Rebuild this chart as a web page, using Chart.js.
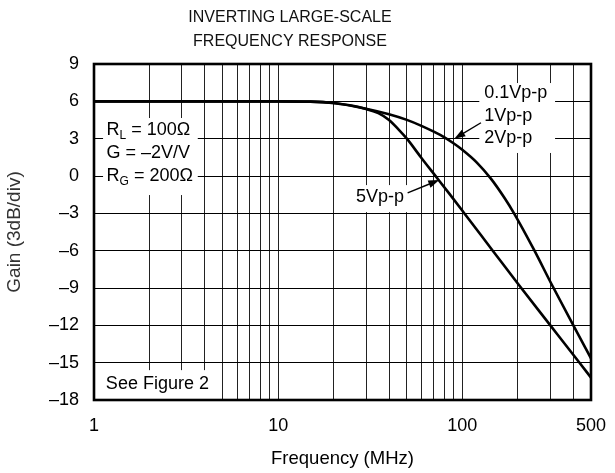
<!DOCTYPE html>
<html lang="en">
<head>
<meta charset="UTF-8" />
<title>Inverting Large-Scale Frequency Response</title>
<script src="https://cdn.jsdelivr.net/npm/chart.js"></script>
<style>
  html, body { margin: 0; padding: 0; background: #fff; }
  canvas { display: block; }
</style>
</head>
<body>
<canvas id="chart" width="615" height="473"></canvas>
<script>
  // curve for 0.1 / 1 / 2 Vp-p (all on top of each other)
  const freqSmall = [1, 5, 10, 15, 20, 30, 40, 50, 60, 70, 80, 90, 100, 120, 143, 170, 191, 245, 306, 405, 500];
  const gainSmall = [6, 6, 6, 5.98, 5.87, 5.41, 4.96, 4.51, 4.03, 3.56, 3.11, 2.61, 2.11, 1.08, -0.21, -1.79, -3, -5.92, -8.72, -12.13, -14.65];

  // curve for 5 Vp-p
  const freqLarge = [1, 5, 10, 15, 20, 25, 30, 35, 40, 45, 50, 60, 72, 85, 102, 146, 203, 300, 430, 500];
  const gainLarge = [6, 6, 6, 5.98, 5.87, 5.66, 5.38, 5.05, 4.5, 3.75, 3.0, 1.45, -0.05, -1.42, -2.95, -5.98, -8.76, -11.98, -14.95, -16.2];

  const xGrid = [1, 2, 3, 4, 5, 6, 7, 8, 9, 10, 20, 30, 40, 50, 60, 70, 80, 90, 100, 200, 300, 400, 500];
  const xLabels = [1, 10, 100, 500];
  const yTicks = [9, 6, 3, 0, -3, -6, -9, -12, -15, -18];

  const titleLines = ["INVERTING LARGE-SCALE", "FREQUENCY RESPONSE"];

  const FONT = "'Liberation Sans', Arial, Helvetica, sans-serif";

  // white patches that hide the grid behind the notes: [f1, f2, dB1, dB2]
  const patches = [
    [1.12, 3.66, 4.66, -1.53],
    [123.7, 319, 7.47, 1.85],
    [25, 51.6, -0.73, -2.9],
    [1.08, 4.53, -15.6, -18]
  ];

  // notes: position in (MHz, dB), lines split into [text, subscript] parts
  const notes = [
    { at: [1.17, 3.7], step: 23, lines: [[["R", "L"], [" = 100Ω"]], [["G = –2V/V"]], [["R", "G"], [" = 200Ω"]]] },
    { at: [131.6, 6.64], step: 22.5, lines: [[["0.1Vp-p"]], [["1Vp-p"]], [["2Vp-p"]]] },
    { at: [26.5, -1.67], step: 0, lines: [[["5Vp-p"]]] },
    { at: [1.16, -16.75], step: 0, lines: [[["See Figure 2"]]] }
  ];

  // arrows from label to curve: [fromF, fromDb, toF, toDb]
  const arrows = [
    [126.3, 4.28, 90.5, 3.0],
    [50.5, -1.35, 75, -0.32]
  ];

  const notesPlugin = {
    id: "notes",
    beforeDatasetsDraw(chart) {
      const { ctx, scales: { x, y } } = chart;
      ctx.save();
      ctx.fillStyle = "#fff";
      patches.forEach(([f1, f2, d1, d2]) => {
        const x1 = x.getPixelForValue(f1), x2 = x.getPixelForValue(f2);
        const y1 = y.getPixelForValue(d1), y2 = y.getPixelForValue(d2);
        ctx.fillRect(x1, y1, x2 - x1, y2 - y1);
      });

      ctx.fillStyle = "#000";
      ctx.textBaseline = "middle";
      ctx.textAlign = "left";
      notes.forEach(n => {
        const px = x.getPixelForValue(n.at[0]);
        const py = y.getPixelForValue(n.at[1]);
        n.lines.forEach((parts, i) => {
          let cx = px;
          const cy = py + i * n.step;
          parts.forEach(([main, sub]) => {
            ctx.font = "18px " + FONT;
            ctx.fillText(main, cx, cy);
            cx += ctx.measureText(main).width;
            if (sub) {
              ctx.font = "12px " + FONT;
              ctx.fillText(sub, cx, cy + 6);
              cx += ctx.measureText(sub).width;
            }
          });
        });
      });
      ctx.restore();
    },
    afterDatasetsDraw(chart) {
      const { ctx, chartArea: a, scales: { x, y } } = chart;
      ctx.save();
      ctx.strokeStyle = "#000";
      ctx.fillStyle = "#000";
      arrows.forEach(([f1, d1, f2, d2]) => {
        const x1 = x.getPixelForValue(f1), y1 = y.getPixelForValue(d1);
        const x2 = x.getPixelForValue(f2), y2 = y.getPixelForValue(d2);
        const ang = Math.atan2(y2 - y1, x2 - x1);
        ctx.lineWidth = 1.4;
        ctx.beginPath();
        ctx.moveTo(x1, y1);
        ctx.lineTo(x2 - 8 * Math.cos(ang), y2 - 8 * Math.sin(ang));
        ctx.stroke();
        ctx.beginPath();
        ctx.moveTo(x2, y2);
        ctx.lineTo(x2 - 11 * Math.cos(ang) + 3.8 * Math.sin(ang), y2 - 11 * Math.sin(ang) - 3.8 * Math.cos(ang));
        ctx.lineTo(x2 - 11 * Math.cos(ang) - 3.8 * Math.sin(ang), y2 - 11 * Math.sin(ang) + 3.8 * Math.cos(ang));
        ctx.closePath();
        ctx.fill();
      });
      // heavy frame round the plot
      ctx.lineWidth = 2.6;
      ctx.strokeRect(a.left, a.top, a.right - a.left, a.bottom - a.top);
      ctx.restore();
    },
    afterDraw(chart) {
      const { ctx } = chart;
      ctx.save();
      ctx.fillStyle = "#111";
      ctx.font = "16px " + FONT;
      ctx.textAlign = "center";
      ctx.textBaseline = "middle";
      titleLines.forEach((t, i) => ctx.fillText(t, 290, 18 + i * 24));
      ctx.restore();
    }
  };

  new Chart(document.getElementById("chart"), {
    type: "line",
    data: {
      datasets: [
        {
          label: "0.1Vp-p, 1Vp-p, 2Vp-p",
          data: freqSmall.map((f, i) => ({ x: f, y: gainSmall[i] })),
          borderColor: "#000",
          borderWidth: 2.6,
          pointRadius: 0,
          fill: false,
          cubicInterpolationMode: "monotone"
        },
        {
          label: "5Vp-p",
          data: freqLarge.map((f, i) => ({ x: f, y: gainLarge[i] })),
          borderColor: "#000",
          borderWidth: 2.6,
          pointRadius: 0,
          fill: false,
          cubicInterpolationMode: "monotone"
        }
      ]
    },
    options: {
      responsive: false,
      animation: false,
      devicePixelRatio: 1,
      layout: { padding: { top: 64, right: 24, bottom: 0, left: 0 } },
      plugins: {
        legend: { display: false },
        tooltip: { enabled: false }
      },
      scales: {
        x: {
          type: "logarithmic",
          min: 1,
          max: 500,
          afterBuildTicks: s => { s.ticks = xGrid.map(v => ({ value: v })); },
          afterFit: s => {
            s.height = 73;
            s.paddingLeft = 0;
            s.paddingRight = 0;
          },
          ticks: {
            autoSkip: false,
            maxRotation: 0,
            padding: 15,
            color: "#000",
            font: { family: FONT, size: 18 },
            callback: v => xLabels.includes(v) ? String(v) : ""
          },
          grid: { color: "#222", lineWidth: 1, drawTicks: false },
          border: { display: false },
          title: {
            display: true,
            text: "Frequency (MHz)",
            color: "#000",
            font: { family: FONT, size: 18.5 },
            padding: { top: 0, bottom: 3 }
          }
        },
        y: {
          min: -18,
          max: 9,
          afterBuildTicks: s => { s.ticks = yTicks.map(v => ({ value: v })); },
          afterFit: s => { s.width = 94; },
          ticks: {
            padding: 15,
            color: "#000",
            font: { family: FONT, size: 18 },
            callback: v => v < 0 ? "–" + Math.abs(v) : String(v)
          },
          grid: { color: "#000", lineWidth: 1, drawTicks: false },
          border: { display: false },
          title: {
            display: true,
            text: "Gain (3dB/div)",
            color: "#333",
            font: { family: FONT, size: 19 },
            padding: { top: 3, bottom: 0 }
          }
        }
      }
    },
    plugins: [notesPlugin]
  });
</script>
</body>
</html>
